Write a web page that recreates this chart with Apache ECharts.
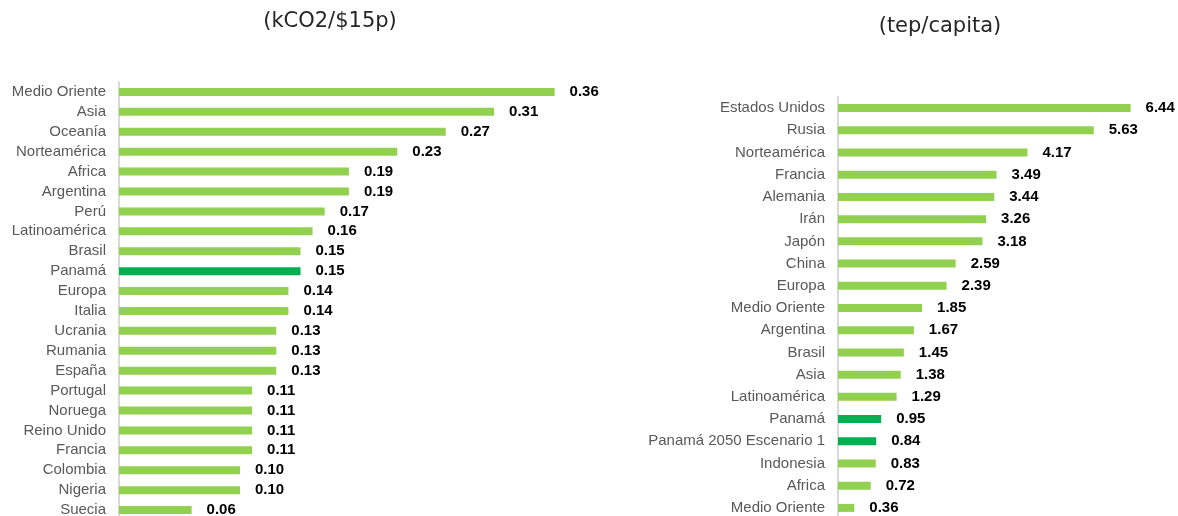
<!DOCTYPE html>
<html>
<head>
<meta charset="utf-8">
<script src="https://cdn.jsdelivr.net/npm/echarts@6/dist/echarts.min.js"></script>
<style>
  html, body { margin: 0; padding: 0; background: #ffffff; overflow: hidden; }
  /* the last rows run slightly past the bottom edge, so the canvas is a bit taller */
  #chart { width: 1178px; height: 530px; }
</style>
</head>
<body>
<div id="chart"></div>
<script>
// Carbon intensity (kCO2 per $ of 2015 PPP)
const intensityCategories = [
  'Medio Oriente', 'Asia', 'Oceanía', 'Norteamérica', 'Africa', 'Argentina', 'Perú',
  'Latinoamérica', 'Brasil', 'Panamá', 'Europa', 'Italia', 'Ucrania', 'Rumania',
  'España', 'Portugal', 'Noruega', 'Reino Unido', 'Francia', 'Colombia', 'Nigeria', 'Suecia'
];
const intensityValues = [
  0.36, 0.31, 0.27, 0.23, 0.19, 0.19, 0.17,
  0.16, 0.15, 0.15, 0.14, 0.14, 0.13, 0.13,
  0.13, 0.11, 0.11, 0.11, 0.11, 0.10, 0.10, 0.06
];

// Energy consumption per capita (toe per capita)
const perCapitaCategories = [
  'Estados Unidos', 'Rusia', 'Norteamérica', 'Francia', 'Alemania', 'Irán', 'Japón',
  'China', 'Europa', 'Medio Oriente', 'Argentina', 'Brasil', 'Asia', 'Latinoamérica',
  'Panamá', 'Panamá 2050 Escenario 1', 'Indonesia', 'Africa', 'Medio Oriente'
];
const perCapitaValues = [
  6.44, 5.63, 4.17, 3.49, 3.44, 3.26, 3.18,
  2.59, 2.39, 1.85, 1.67, 1.45, 1.38, 1.29,
  0.95, 0.84, 0.83, 0.72, 0.36
];

const titles = ['(kCO2/$15p)', '(tep/capita)'];

const BAR_COLOR = '#92D050';
const HIGHLIGHT_COLOR = '#00B050';
const LABEL_FONT = '"Liberation Sans", Arial, sans-serif';

function barData(categories, values) {
  return values.map((v, i) => ({
    value: v,
    itemStyle: { color: categories[i].startsWith('Panamá') ? HIGHLIGHT_COLOR : BAR_COLOR }
  }));
}

function categoryAxis(gridIndex, categories) {
  return {
    type: 'category',
    gridIndex: gridIndex,
    data: categories,
    inverse: true,
    axisLine: { show: true, lineStyle: { color: '#D9D9D9', width: 2 } },
    axisTick: { show: false },
    axisLabel: {
      color: '#595959',
      fontFamily: LABEL_FONT,
      fontSize: 15,
      margin: 13,
      interval: 0
    }
  };
}

function valueAxis(gridIndex, max) {
  return {
    type: 'value',
    gridIndex: gridIndex,
    min: 0,
    max: max,
    show: false,
    splitLine: { show: false }
  };
}

function barSeries(index, categories, values) {
  return {
    type: 'bar',
    xAxisIndex: index,
    yAxisIndex: index,
    data: barData(categories, values),
    barWidth: 8,
    label: {
      show: true,
      position: 'right',
      distance: 15,
      color: '#000000',
      fontWeight: 'bold',
      fontFamily: LABEL_FONT,
      fontSize: 15,
      formatter: p => p.value.toFixed(2)
    },
    silent: true
  };
}

const chart = echarts.init(document.getElementById('chart'), null, { renderer: 'canvas' });

chart.setOption({
  backgroundColor: '#ffffff',
  animation: false,
  graphic: [
    {
      type: 'text', x: 330, y: 22,
      style: {
        text: titles[0], fill: '#262626', align: 'center', verticalAlign: 'middle',
        font: '21px "DejaVu Sans", Verdana, sans-serif'
      }
    },
    {
      type: 'text', x: 940, y: 27,
      style: {
        text: titles[1], fill: '#262626', align: 'center', verticalAlign: 'middle',
        font: '21px "DejaVu Sans", Verdana, sans-serif'
      }
    }
  ],
  grid: [
    { left: 119, top: 82, width: 484, height: 438 },
    { left: 838, top: 97, width: 318, height: 422 }
  ],
  xAxis: [valueAxis(0, 0.4), valueAxis(1, 7)],
  yAxis: [categoryAxis(0, intensityCategories), categoryAxis(1, perCapitaCategories)],
  series: [
    barSeries(0, intensityCategories, intensityValues),
    barSeries(1, perCapitaCategories, perCapitaValues)
  ]
});
</script>
</body>
</html>
